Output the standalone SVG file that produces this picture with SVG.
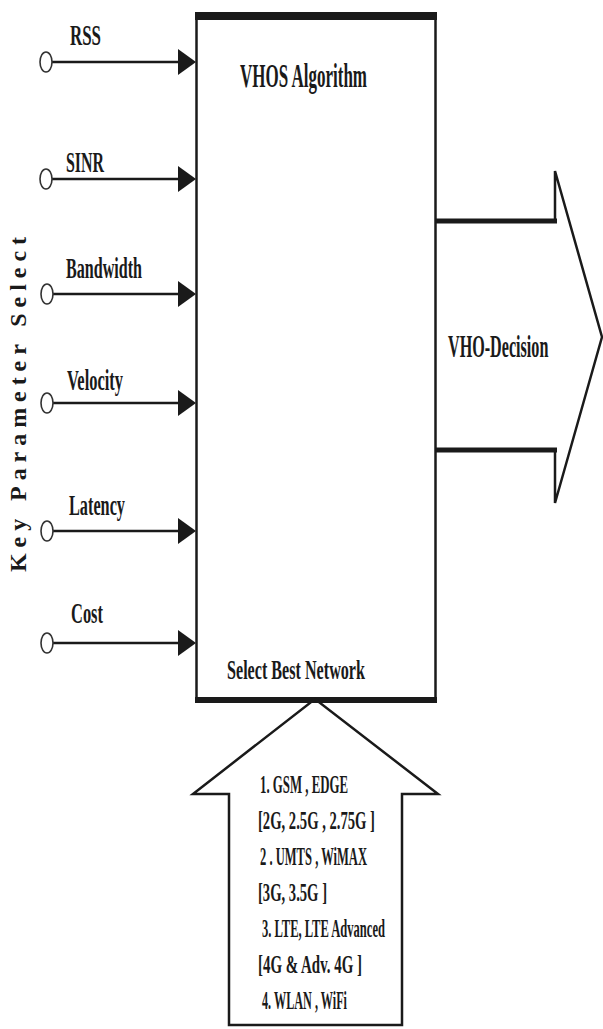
<svg xmlns="http://www.w3.org/2000/svg" width="603" height="1029" viewBox="0 0 603 1029">
<style>
.t{font-family:"Liberation Serif","Times New Roman",serif;font-weight:bold;fill:#1a1a1a}
.lab{font-size:30px}
.lst{font-size:26px}
.ln{stroke:#1a1a1a;stroke-width:2.5;fill:none}
.circ{stroke:#333;stroke-width:1.6;fill:#fff}
.ah{fill:#1a1a1a}
</style>
<rect width="603" height="1029" fill="#fff"/>
<g id="key-label">
<text class="t" font-size="24" transform="translate(26,572) rotate(-90)" textLength="335">Key Parameter Select</text>
</g>
<g id="vhos">
<line x1="196.5" y1="14" x2="196.5" y2="703" class="ln" stroke-width="3"/>
<line x1="435.5" y1="14" x2="435.5" y2="703" class="ln" stroke-width="3"/>
<line x1="195" y1="16" x2="437" y2="16" stroke="#1a1a1a" stroke-width="8"/>
<line x1="195" y1="700" x2="437" y2="700" stroke="#1a1a1a" stroke-width="6"/>
<text class="t" font-size="33" x="240" y="87" textLength="127" lengthAdjust="spacingAndGlyphs">VHOS  Algorithm</text>
<text class="t" font-size="28" x="227" y="679" textLength="138" lengthAdjust="spacingAndGlyphs">Select Best Network</text>
</g>
<g id="decision">
<polyline points="555,221 555,171 602,337 555,503 555,450" class="ln"/>
<line x1="436" y1="221" x2="557" y2="221" stroke="#1a1a1a" stroke-width="5"/>
<line x1="436" y1="450" x2="557" y2="450" stroke="#1a1a1a" stroke-width="5"/>
<text class="t" font-size="31" transform="translate(448,357) scale(0.52,1)" textLength="193" lengthAdjust="spacingAndGlyphs">VHO-Decision</text>
</g>
<g id="networks">
<polygon points="229,1025 229,794 193,794 315,699 438,794 402,794 402,1025" class="ln" stroke-width="3" fill="#fff"/>
<text class="t lst" x="260" y="793" textLength="88" lengthAdjust="spacingAndGlyphs">1. GSM , EDGE</text>
<text class="t lst" x="258" y="829" textLength="117" lengthAdjust="spacingAndGlyphs">[2G, 2.5G , 2.75G ]</text>
<text class="t lst" x="260" y="865" textLength="107" lengthAdjust="spacingAndGlyphs">2 . UMTS , WiMAX</text>
<text class="t lst" x="258" y="901" textLength="69" lengthAdjust="spacingAndGlyphs">[3G, 3.5G ]</text>
<text class="t lst" x="262" y="937" textLength="123" lengthAdjust="spacingAndGlyphs">3. LTE, LTE Advanced</text>
<text class="t lst" x="258" y="973" textLength="104" lengthAdjust="spacingAndGlyphs">[4G &amp; Adv. 4G ]</text>
<text class="t lst" x="262" y="1009" textLength="85" lengthAdjust="spacingAndGlyphs">4. WLAN , WiFi</text>
</g>
<g id="connectors">
<line x1="52" y1="62" x2="180" y2="62" class="ln"/>
<polygon points="178,49 196,62 178,75" class="ah"/>
<line x1="52" y1="179" x2="180" y2="179" class="ln"/>
<polygon points="178,166 196,179 178,192" class="ah"/>
<line x1="52" y1="294" x2="180" y2="294" class="ln"/>
<polygon points="178,281 196,294 178,307" class="ah"/>
<line x1="52" y1="403" x2="180" y2="403" class="ln"/>
<polygon points="178,390 196,403 178,416" class="ah"/>
<line x1="52" y1="531" x2="180" y2="531" class="ln"/>
<polygon points="178,518 196,531 178,544" class="ah"/>
<line x1="52" y1="643" x2="180" y2="643" class="ln"/>
<polygon points="178,630 196,643 178,656" class="ah"/>
</g>
<g id="in-rss"><ellipse cx="46" cy="62" rx="6" ry="10" class="circ"/><text class="t lab" x="70" y="45" textLength="31" lengthAdjust="spacingAndGlyphs">RSS</text></g>
<g id="in-sinr"><ellipse cx="46" cy="179" rx="6" ry="10" class="circ"/><text class="t lab" x="66" y="172" textLength="38" lengthAdjust="spacingAndGlyphs">SINR</text></g>
<g id="in-bandwidth"><ellipse cx="47" cy="294" rx="6" ry="10" class="circ"/><text class="t lab" x="66" y="278" textLength="76" lengthAdjust="spacingAndGlyphs">Bandwidth</text></g>
<g id="in-velocity"><ellipse cx="47" cy="403" rx="6" ry="10" class="circ"/><text class="t lab" x="67" y="390" textLength="56" lengthAdjust="spacingAndGlyphs">Velocity</text></g>
<g id="in-latency"><ellipse cx="47" cy="531" rx="6" ry="10" class="circ"/><text class="t lab" x="69" y="515" textLength="56" lengthAdjust="spacingAndGlyphs">Latency</text></g>
<g id="in-cost"><ellipse cx="47" cy="643" rx="6" ry="10" class="circ"/><text class="t lab" x="71" y="623" textLength="32" lengthAdjust="spacingAndGlyphs">Cost</text></g>
</svg>
